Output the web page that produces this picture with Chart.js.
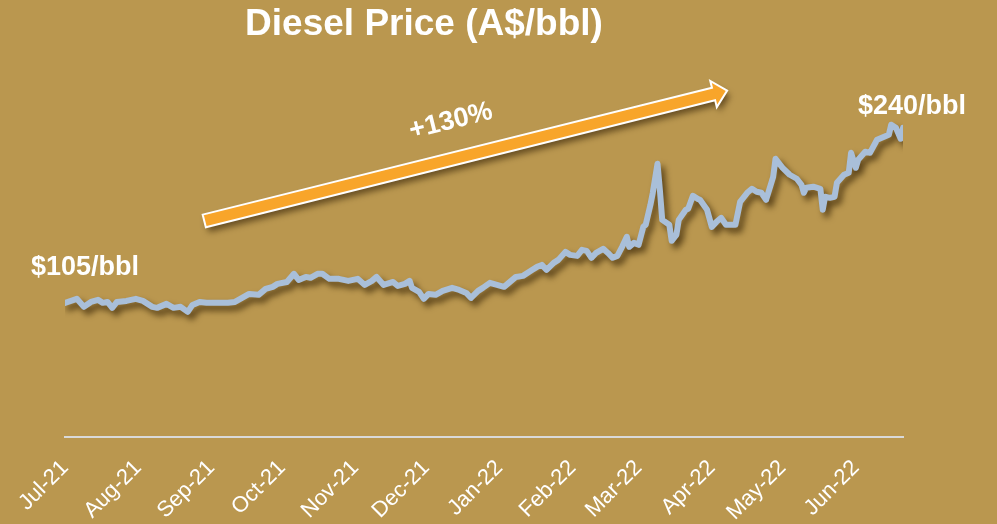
<!DOCTYPE html>
<html>
<head>
<meta charset="utf-8">
<title>Diesel Price (A$/bbl)</title>
<script src="https://cdn.jsdelivr.net/npm/chart.js@4.4.0/dist/chart.umd.min.js"></script>
<style>
  html, body { margin: 0; padding: 0; background: #BA974F; }
  #dieselChart { display: block; background: #BA974F; }
</style>
</head>
<body>
<canvas id="dieselChart" width="997" height="524"></canvas>
<script>
// days since 1 Jul 2021
const days = [0, 5, 8, 11, 14, 16, 18, 20, 22, 26, 30, 33, 37, 39, 43, 46, 49, 52, 54, 57,
  60, 64, 69, 72, 75, 78, 82, 85, 88, 90, 94, 97, 99, 102, 104, 107, 109, 112, 116, 120,
  124, 127, 130, 132, 135, 139, 141, 144, 146, 147, 150, 152, 154, 157, 160, 164, 167, 170, 172, 175,
  177, 180, 183, 186, 191, 194, 198, 200, 202, 204, 207, 209, 212, 214, 217, 219, 221, 223, 225, 228,
  230, 232, 234, 236, 238, 239, 241, 243, 245, 246, 248, 249, 251, 252, 253, 256, 257, 259, 260, 263,
  264, 266, 268, 269, 272, 274, 276, 278, 280, 284, 286, 289, 291, 293, 295, 297, 300, 301, 304, 307,
  310, 312, 313, 314, 317, 320, 321, 322, 324, 326, 327, 330, 332, 333, 335, 336, 339, 341, 344, 346,
  349, 350, 352, 354, 355];

// diesel price, A$/bbl
const prices = [104, 107.1, 100.9, 104.7, 106.3, 104.0, 104.7, 100.1, 104.7, 105.5, 107.1, 105.5, 100.9, 100.1, 103.2, 100.1, 100.9, 97.0, 102.4, 104.7,
  104.0, 104.0, 104.0, 104.7, 107.8, 110.9, 110.2, 114.8, 116.4, 118.7, 120.2, 126.5, 121.8, 124.1, 123.4, 126.5, 126.5, 122.6, 122.6, 121.0,
  122.6, 117.9, 121.0, 124.1, 117.9, 120.2, 117.1, 118.7, 121.0, 115.6, 112.5, 107.1, 110.9, 110.2, 113.3, 115.6, 114.0, 111.7, 107.8, 113.3,
  115.6, 119.5, 117.9, 116.4, 124.1, 124.9, 129.6, 131.9, 133.4, 129.6, 135.0, 137.3, 143.5, 141.2, 140.4, 145.1, 144.3, 138.9, 142.7, 145.9,
  142.7, 138.9, 140.4, 147.4, 155.2, 147.4, 150.5, 149.0, 162.9, 164.5, 180.0, 189.3, 211.8, 191.6, 168.3, 164.5, 152.1, 156.7, 168.3, 176.1,
  176.9, 187.0, 184.6, 183.9, 176.1, 162.9, 166.8, 169.9, 164.5, 164.5, 182.3, 189.3, 192.4, 190.1, 189.3, 183.9, 201.7, 215.7, 208.7, 203.3,
  200.2, 195.5, 189.3, 193.2, 194.0, 192.4, 176.1, 186.2, 185.4, 186.2, 197.1, 203.3, 204.8, 220.3, 208.7, 214.9, 221.1, 220.3, 230.4, 232.0,
  234.3, 242.1, 239.7, 231.2, 239.7];

const monthLabels = ["Jul-21", "Aug-21", "Sep-21", "Oct-21", "Nov-21", "Dec-21",
  "Jan-22", "Feb-22", "Mar-22", "Apr-22", "May-22", "Jun-22"];
const monthStartDays = [0, 31, 62, 92, 123, 153, 184, 215, 243, 274, 304, 335];

const FONT = "'Liberation Sans', Arial, sans-serif";

// arrow ends in data units (day, price)
const arrowFrom = { x: 59, y: 167.5 };
const arrowTo = { x: 280.5, y: 268.5 };

// shadow under the price line
const lineShadow = {
  id: "lineShadow",
  beforeDatasetsDraw(chart) {
    const ctx = chart.ctx;
    ctx.save();
    ctx.shadowColor = "rgba(60, 40, 8, 0.75)";
    ctx.shadowBlur = 6;
    ctx.shadowOffsetX = 4;
    ctx.shadowOffsetY = 5;
  },
  afterDatasetsDraw(chart) {
    chart.ctx.restore();
  },
};

// title, price labels, arrow
const notes = {
  id: "notes",
  afterDraw(chart) {
    const ctx = chart.ctx;
    const xs = chart.scales.x;
    const ys = chart.scales.y;

    ctx.save();
    ctx.fillStyle = "#FFFFFF";
    ctx.textBaseline = "alphabetic";

    ctx.font = "bold 37px " + FONT;
    ctx.textAlign = "center";
    ctx.fillText("Diesel Price (A$/bbl)", 424, 35);

    const n = days.length - 1;
    ctx.font = "bold 27px " + FONT;
    ctx.textAlign = "left";
    ctx.fillText("$105/bbl", xs.getPixelForValue(days[0]) - 34, ys.getPixelForValue(prices[0]) - 28);
    ctx.fillText("$240/bbl", xs.getPixelForValue(days[n]) - 45, ys.getPixelForValue(prices[n]) - 14);

    // arrow
    const x0 = xs.getPixelForValue(arrowFrom.x), y0 = ys.getPixelForValue(arrowFrom.y);
    const x1 = xs.getPixelForValue(arrowTo.x), y1 = ys.getPixelForValue(arrowTo.y);
    const ang = Math.atan2(y1 - y0, x1 - x0);
    const len = Math.hypot(x1 - x0, y1 - y0);
    const t = 6.5, head = 13.5, headLen = 14;

    ctx.save();
    ctx.translate(x0, y0);
    ctx.rotate(ang);
    ctx.beginPath();
    ctx.moveTo(0, -t);
    ctx.lineTo(len - headLen, -t);
    ctx.lineTo(len - headLen, -head);
    ctx.lineTo(len, 0);
    ctx.lineTo(len - headLen, head);
    ctx.lineTo(len - headLen, t);
    ctx.lineTo(0, t);
    ctx.closePath();
    ctx.shadowColor = "rgba(60, 40, 10, 0.65)";
    ctx.shadowBlur = 6;
    ctx.shadowOffsetX = 3;
    ctx.shadowOffsetY = 5;
    ctx.fillStyle = "#F8A52A";
    ctx.fill();
    ctx.shadowColor = "transparent";
    ctx.lineWidth = 2;
    ctx.strokeStyle = "#FFFFFF";
    ctx.lineJoin = "miter";
    ctx.stroke();

    ctx.font = "bold 27px " + FONT;
    ctx.textAlign = "center";
    ctx.textBaseline = "middle";
    ctx.fillStyle = "#FFFFFF";
    ctx.fillText("+130%", len / 2 - 6, -37);
    ctx.restore();

    ctx.restore();
  },
};

document.addEventListener("DOMContentLoaded", function () {
  const ctx = document.getElementById("dieselChart");
  new Chart(ctx, {
    type: "line",
    data: {
      datasets: [
        {
          label: "Diesel Price (A$/bbl)",
          data: days.map((d, i) => ({ x: d, y: prices[i] })),
          borderColor: "#A9BFD9",
          borderWidth: 6,
          borderJoinStyle: "round",
          borderCapStyle: "round",
          pointRadius: 0,
          tension: 0,
          fill: false,
        },
      ],
    },
    options: {
      responsive: false,
      animation: false,
      layout: { padding: { left: 65, right: 94, top: 50, bottom: 0 } },
      plugins: {
        legend: { display: false },
        title: { display: false },
        tooltip: { enabled: false },
      },
      scales: {
        x: {
          type: "linear",
          min: 0,
          max: 355,
          grid: { display: false, drawTicks: false },
          border: { display: true, color: "#D9D9D9", width: 2 },
          afterBuildTicks: (s) => {
            s.ticks = monthStartDays.map((v) => ({ value: v }));
          },
          afterFit: (s) => {
            s.height = 87;
          },
          ticks: {
            autoSkip: false,
            maxRotation: 45,
            minRotation: 45,
            padding: 18,
            color: "#FFFFFF",
            font: { family: FONT, size: 22 },
            callback: (v) => monthLabels[monthStartDays.indexOf(v)],
          },
        },
        y: {
          display: false,
          min: 0,
          max: 300,
        },
      },
    },
    plugins: [lineShadow, notes],
  });
});
</script>
</body>
</html>
